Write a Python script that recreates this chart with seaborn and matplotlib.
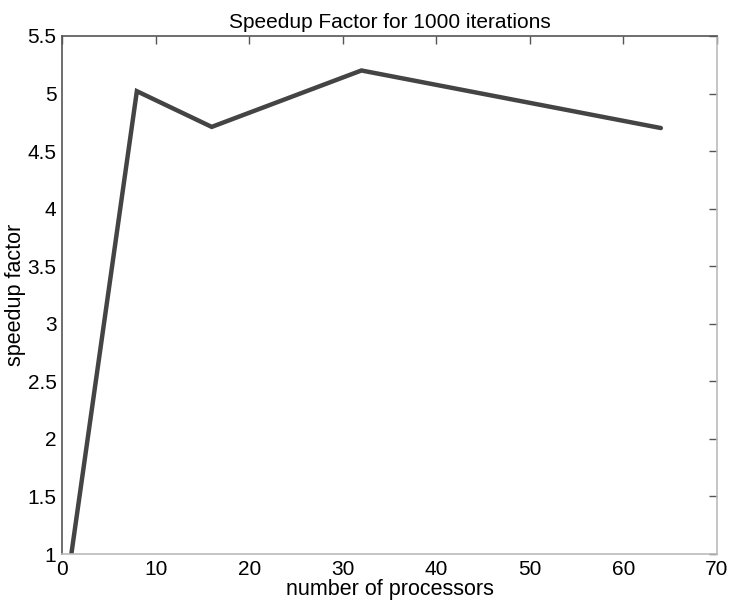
import matplotlib
matplotlib.use("Agg")
import matplotlib.pyplot as plt
import seaborn as sns
import pandas as pd

processors = [1, 8, 16, 32, 64]
speedup = [1.0, 5.02, 4.71, 5.20, 4.70]
x_ticks = [0, 10, 20, 30, 40, 50, 60, 70]
y_ticks = [1, 1.5, 2, 2.5, 3, 3.5, 4, 4.5, 5, 5.5]
y_labels = ["1", "1.5", "2", "2.5", "3", "3.5", "4", "4.5", "5", "5.5"]

sns.set_style("white")
plt.rcParams['font.family'] = ['Liberation Sans', 'DejaVu Sans']
plt.rcParams['text.color'] = 'black'
plt.rcParams['axes.labelcolor'] = 'black'
plt.rcParams['xtick.labelcolor'] = 'black'
plt.rcParams['ytick.labelcolor'] = 'black'

df = pd.DataFrame({"processors": processors, "speedup": speedup})

fig = plt.figure(figsize=(7.32, 6.01), dpi=100)
ax = fig.add_axes([0.0847, 0.0782, 0.8948, 0.862])
sns.lineplot(data=df, x="processors", y="speedup", ax=ax, color="#444444",
             linewidth=3.2, solid_joinstyle="miter")

ax.set_xlim(0, 70)
ax.set_ylim(1, 5.5)
ax.set_xticks(x_ticks)
ax.set_xticklabels([str(t) for t in x_ticks])
ax.set_yticks(y_ticks)
ax.set_yticklabels(y_labels)
ax.tick_params(direction="in", length=6, width=1, labelsize=15, top=True, right=True,
               color="#555555", labelcolor="black", pad=4)
ax.set_xlabel("number of processors", fontsize=15.5, labelpad=0, color="black")
ax.set_ylabel("speedup factor", fontsize=15.5, labelpad=1, color="black")
ax.set_title("Speedup Factor for 1000 iterations", fontsize=15, pad=6, color="black")

for side in ["top", "left"]:
    ax.spines[side].set_color("#555555")
for side in ["bottom", "right"]:
    ax.spines[side].set_color("#bbbbbb")
for s in ax.spines.values():
    s.set_linewidth(1.2)

fig.savefig("out.png", dpi=100)
